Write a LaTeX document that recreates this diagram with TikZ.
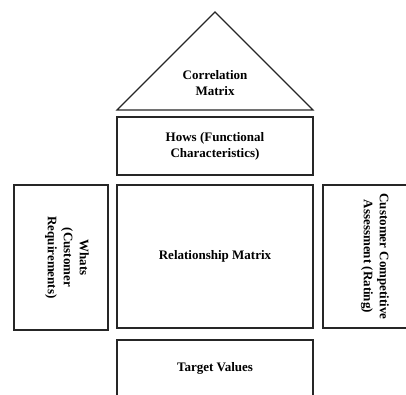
\documentclass[tikz,border=0pt]{standalone}
\usepackage{fontspec}
\setmainfont{Liberation Serif}
\begin{document}
\begin{tikzpicture}[x=1pt,y=-1pt,
  box/.style={draw=black!85,line width=1.2pt,inner sep=0pt,font=\bfseries\fontsize{13}{16}\selectfont,align=center},
  lbl/.style={font=\bfseries\fontsize{13}{16}\selectfont,align=center,inner sep=0pt}]
\useasboundingbox (0,0) rectangle (406,394);
\coordinate (apex) at (215,12);
\coordinate (bl) at (117,110);
\coordinate (br) at (313,110);
\draw[line width=1.2pt,draw=black!85,line join=miter] (bl) -- (apex) -- (br) -- cycle;
\node[lbl] (corr) at (215,83) {Correlation\\Matrix};
\node[box,minimum width=196pt,minimum height=58pt] (hows) at (215,146) {Hows (Functional\\Characteristics)};
\node[box,minimum width=196pt,minimum height=143pt] (rel) at (215,256.5) {Relationship Matrix};
\node[box,minimum width=94pt,minimum height=145pt] (whats) at (61,257.5) {};
\node[lbl,rotate=-90] (whatst) at ([xshift=6pt]whats.center) {Whats\\(Customer\\Requirements)};
\node[box,minimum width=104pt,minimum height=143pt] (cca) at (375,256.5) {};
\node[lbl,rotate=-90] (ccat) at (cca.center) {Customer Competitive\\Assessment (Rating)};
\node[box,minimum width=196pt,minimum height=56pt] (target) at (215,368) {Target Values};
\end{tikzpicture}
\end{document}
